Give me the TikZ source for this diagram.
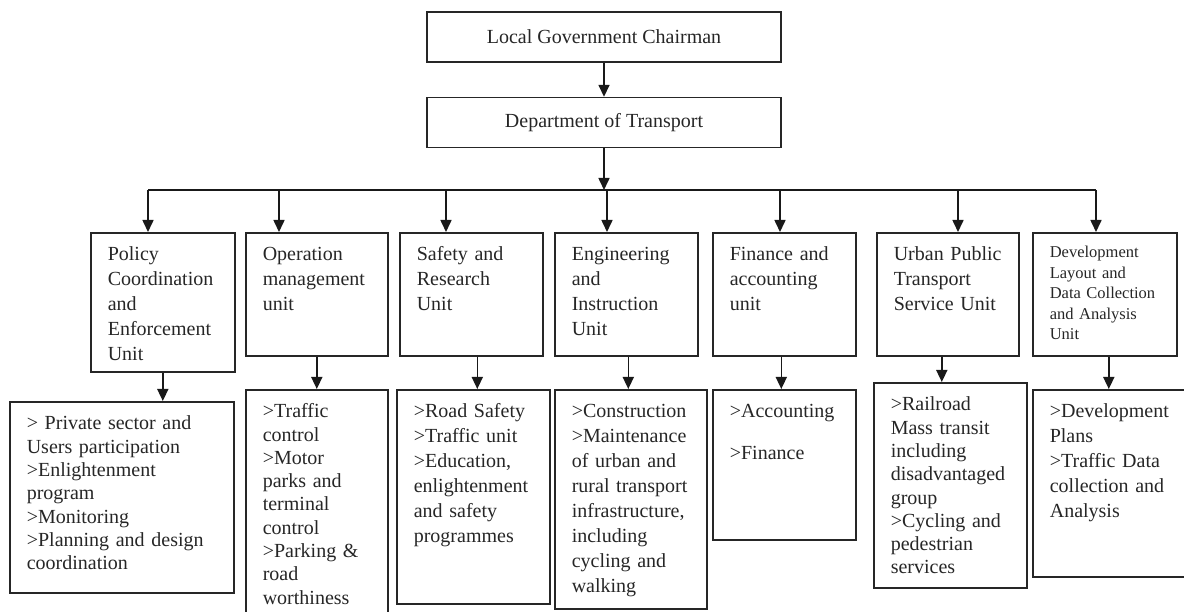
\documentclass[tikz,border=0pt]{standalone}
\usepackage{fontspec}
\setmainfont{Liberation Serif}
\usetikzlibrary{arrows.meta,positioning}
\tikzset{
    %Define standard arrow tip
    >={Triangle[length=12pt,width=11pt]},
    %Define style for boxes
    headbox/.style={
           rectangle,
           draw=black!85, line width=1.6pt,
           minimum width=354pt,
           minimum height=50pt,
           font=\fontsize{20}{25}\selectfont,
           text=black!85},
    unitbox/.style={
           rectangle,
           draw=black!85, line width=1.6pt,
           anchor=north west,
           align=left,
           inner xsep=17pt,
           inner ysep=14pt,
           text height=14pt,
           font=\fontsize{20}{25}\selectfont,
           text=black!85},
    tight/.style={
           font=\fontsize{20}{23.3}\selectfont},
    small/.style={
           font=\fontsize{16.5}{20.5}\selectfont,
           text height=11pt},
    % Define arrow style
    pil/.style={
           ->,
           line width=1.6pt,
           draw=black!90},
    bus/.style={
           line width=1.6pt,
           draw=black!90}
}
\begin{document}
\begin{tikzpicture}[x=1pt,y=-1pt]
\useasboundingbox (0,0) rectangle (1184,612);
\clip (0,0) rectangle (1184,612);

 %top of the chart
\node[headbox] (chair) at (604,37) {Local Government Chairman};
\node[headbox, below=34pt of chair] (dept) {Department of Transport};

 %units
\node[unitbox, text width=110pt, text depth=97pt] (pol) at (90,232) {Policy\\Coordination\\and\\Enforcement\\Unit};
\node[unitbox, text width=108pt, text depth=81pt] (ops) at (245,232) {Operation\\management\\unit};
\node[unitbox, text width=109pt, text depth=81pt] (saf) at (399,232) {Safety and\\Research\\Unit};
\node[unitbox, text width=109pt, text depth=81pt] (eng) at (554,232) {Engineering\\and\\Instruction\\Unit};
\node[unitbox, text width=109pt, text depth=81pt] (fin) at (712,232) {Finance and\\accounting\\unit};
\node[unitbox, text width=108pt, text depth=81pt] (urb) at (876,232) {Urban~Public\\Transport\\Service Unit};
\node[unitbox, small, text width=110pt, text depth=84pt] (dev) at (1032,232) {Development\\Layout and\\Data~Collection\\and Analysis\\Unit};

 %tasks of the units
\node[unitbox, tight, text width=190pt, text depth=149pt] (polx) at (9,401) {> Private sector and\\Users participation\\>Enlightenment\\program\\>Monitoring\\>Planning and design\\coordination};
\node[unitbox, tight, text width=108pt, text depth=194pt] (opsx) at (245,389) {>Traffic\\control\\>Motor\\parks and\\terminal\\control\\>Parking \&\\road\\worthiness};
\node[unitbox, text width=119pt, text depth=172pt] (safx) at (396,389) {>Road Safety\\>Traffic unit\\>Education,\\enlightenment\\and safety\\programmes};
\node[unitbox, text width=118pt, text depth=177pt] (engx) at (554,389) {>Construction\\>Maintenance\\of urban and\\rural~transport\\infrastructure,\\including\\cycling and\\walking};
\node[unitbox, text width=109pt, text depth=108pt] (finx) at (712,389) {>Accounting\\[17pt]>Finance};
\node[unitbox, tight, text width=119pt, text depth=163pt] (urbx) at (873,382) {>Railroad\\Mass transit\\including\\disadvantaged\\group\\>Cycling and\\pedestrian\\services};
\node[unitbox, text width=129pt, text depth=145pt] (devx) at (1032,389) {>Development\\Plans\\>Traffic Data\\collection and\\Analysis};

 %connectors
\draw[pil] (chair) -- (dept);
\foreach \u/\x in {pol/148,ops/279,saf/446,eng/607,fin/780,urb/958,dev/1096} {
  \coordinate (t\u) at (\x,190);
  \draw[pil] (t\u) -- (t\u |- \u.north);
}
\draw[bus] (tpol) -- (tdev);
\draw[pil] (dept.south) -- (dept.south |- teng);
\foreach \u/\d/\s in {pol/polx/0,ops/opsx/0,saf/safx/6,eng/engx/2,fin/finx/-3,urb/urbx/-6,dev/devx/4}
  \draw[pil] ([xshift=\s pt]\u.south) -- ([xshift=\s pt]\u.south |- \d.north);

\end{tikzpicture}
\end{document}
